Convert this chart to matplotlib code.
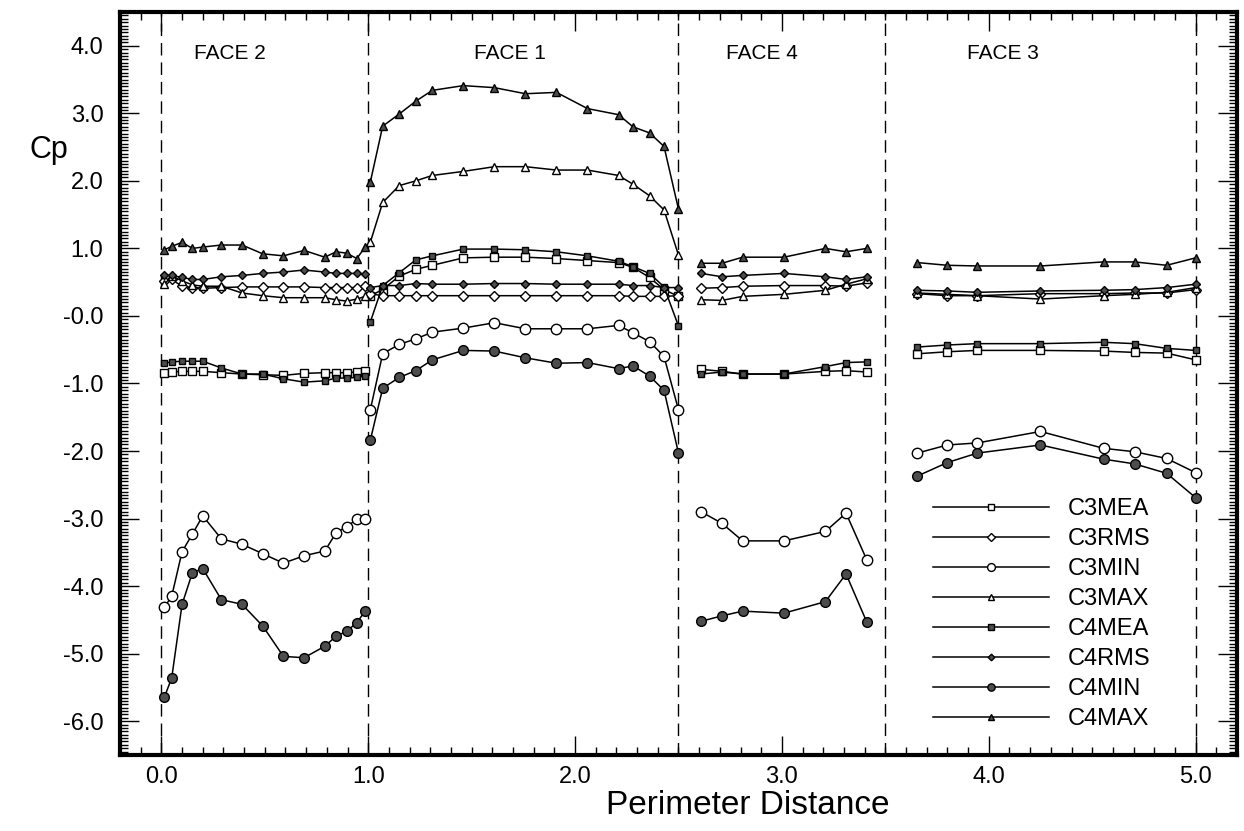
import matplotlib
matplotlib.use("Agg")
import matplotlib.pyplot as plt
from matplotlib.ticker import MultipleLocator, FixedLocator

plt.rcParams['font.family'] = ['Liberation Sans', 'DejaVu Sans']

# ---------------- data ----------------
x_face2 = [0.015, 0.05, 0.10, 0.15, 0.20, 0.29, 0.39, 0.49, 0.59, 0.69, 0.79, 0.845, 0.895, 0.945, 0.985]
x_face1 = [1.01, 1.07, 1.15, 1.23, 1.31, 1.46, 1.61, 1.76, 1.91, 2.06, 2.21, 2.28, 2.36, 2.43, 2.50]
x_face4 = [2.61, 2.71, 2.81, 3.01, 3.21, 3.31, 3.41]
x_face3 = [3.655, 3.80, 3.945, 4.25, 4.555, 4.705, 4.86, 5.0]

# Face 2
c3mea_f2 = [-0.85, -0.83, -0.82, -0.82, -0.82, -0.84, -0.86, -0.87, -0.88, -0.85, -0.84, -0.84, -0.84, -0.83, -0.82]
c3rms_f2 = [0.52, 0.54, 0.44, 0.42, 0.41, 0.42, 0.43, 0.43, 0.43, 0.43, 0.42, 0.42, 0.42, 0.42, 0.44]
c3min_f2 = [-4.31, -4.15, -3.49, -3.23, -2.96, -3.30, -3.38, -3.52, -3.66, -3.55, -3.48, -3.21, -3.12, -3.01, -3.00]
c3max_f2 = [0.47, 0.59, 0.52, 0.46, 0.44, 0.44, 0.34, 0.30, 0.27, 0.27, 0.27, 0.24, 0.22, 0.25, 0.29]
c4mea_f2 = [-0.70, -0.68, -0.67, -0.67, -0.67, -0.77, -0.86, -0.86, -0.93, -0.98, -0.96, -0.92, -0.92, -0.91, -0.89]
c4rms_f2 = [0.60, 0.60, 0.57, 0.54, 0.54, 0.58, 0.60, 0.63, 0.65, 0.68, 0.65, 0.63, 0.63, 0.63, 0.62]
c4min_f2 = [-5.64, -5.36, -4.27, -3.80, -3.74, -4.20, -4.27, -4.59, -5.04, -5.06, -4.89, -4.74, -4.67, -4.54, -4.37]
c4max_f2 = [0.98, 1.03, 1.09, 1.00, 1.02, 1.05, 1.05, 0.92, 0.89, 0.97, 0.87, 0.95, 0.93, 0.85, 1.02]

# Face 1
c3mea_f1 = [0.30, 0.39, 0.59, 0.69, 0.75, 0.86, 0.87, 0.87, 0.85, 0.82, 0.79, 0.72, 0.57, 0.39, 0.29]
c3rms_f1 = [0.33, 0.30, 0.30, 0.30, 0.30, 0.30, 0.30, 0.30, 0.30, 0.30, 0.30, 0.29, 0.29, 0.29, 0.30]
c3min_f1 = [-1.39, -0.56, -0.42, -0.34, -0.24, -0.18, -0.10, -0.19, -0.19, -0.19, -0.14, -0.25, -0.38, -0.60, -1.39]
c3max_f1 = [1.09, 1.68, 1.93, 2.00, 2.08, 2.14, 2.21, 2.21, 2.16, 2.16, 2.08, 1.95, 1.78, 1.57, 0.90]
c4mea_f1 = [-0.09, 0.45, 0.64, 0.83, 0.89, 0.99, 0.99, 0.98, 0.95, 0.89, 0.81, 0.73, 0.63, 0.43, -0.15]
c4rms_f1 = [0.42, 0.45, 0.45, 0.48, 0.47, 0.47, 0.48, 0.48, 0.47, 0.47, 0.47, 0.45, 0.45, 0.42, 0.42]
c4min_f1 = [-1.84, -1.07, -0.91, -0.81, -0.65, -0.51, -0.52, -0.62, -0.70, -0.69, -0.78, -0.74, -0.89, -1.10, -2.03]
c4max_f1 = [1.98, 2.81, 2.99, 3.18, 3.34, 3.41, 3.38, 3.29, 3.31, 3.07, 2.98, 2.80, 2.71, 2.51, 1.58]

# Face 4
c3mea_f4 = [-0.79, -0.82, -0.86, -0.86, -0.82, -0.81, -0.83]
c3rms_f4 = [0.41, 0.42, 0.44, 0.45, 0.45, 0.44, 0.49]
c3min_f4 = [-2.90, -3.07, -3.33, -3.33, -3.19, -2.92, -3.61]
c3max_f4 = [0.24, 0.23, 0.29, 0.32, 0.38, 0.47, 0.55]
c4mea_f4 = [-0.86, -0.83, -0.86, -0.86, -0.75, -0.69, -0.68]
c4rms_f4 = [0.63, 0.58, 0.60, 0.63, 0.58, 0.54, 0.58]
c4min_f4 = [-4.52, -4.44, -4.37, -4.40, -4.23, -3.82, -4.53]
c4max_f4 = [0.78, 0.78, 0.87, 0.87, 1.00, 0.95, 1.00]

# Face 3
c3mea_f3 = [-0.56, -0.53, -0.51, -0.51, -0.52, -0.54, -0.55, -0.65]
c3rms_f3 = [0.33, 0.30, 0.30, 0.33, 0.33, 0.34, 0.34, 0.39]
c3min_f3 = [-2.03, -1.91, -1.88, -1.71, -1.96, -2.01, -2.11, -2.32]
c3max_f3 = [0.34, 0.32, 0.30, 0.25, 0.30, 0.32, 0.35, 0.42]
c4mea_f3 = [-0.46, -0.43, -0.41, -0.41, -0.39, -0.41, -0.48, -0.51]
c4rms_f3 = [0.38, 0.37, 0.35, 0.37, 0.38, 0.39, 0.42, 0.47]
c4min_f3 = [-2.37, -2.17, -2.03, -1.91, -2.12, -2.19, -2.33, -2.69]
c4max_f3 = [0.79, 0.75, 0.74, 0.74, 0.80, 0.80, 0.75, 0.86]

series_names = ['C3MEA', 'C3RMS', 'C3MIN', 'C3MAX', 'C4MEA', 'C4RMS', 'C4MIN', 'C4MAX']
face_boundaries = [0.0, 1.0, 2.5, 3.5, 5.0]
face_labels = ['FACE 2', 'FACE 1', 'FACE 4', 'FACE 3']
face_label_x = [0.33, 1.685, 2.905, 4.07]
y_ticks = [4.0, 3.0, 2.0, 1.0, 0.0, -1.0, -2.0, -3.0, -4.0, -5.0, -6.0]
y_tick_labels = ['4.0', '3.0', '2.0', '1.0', '-0.0', '-1.0', '-2.0', '-3.0', '-4.0', '-5.0', '-6.0']
x_ticks = [0.0, 1.0, 2.0, 3.0, 4.0, 5.0]
x_tick_labels = ['0.0', '1.0', '2.0', '3.0', '4.0', '5.0']

faces_x = [x_face2, x_face1, x_face4, x_face3]
series_data = {
    'C3MEA': [c3mea_f2, c3mea_f1, c3mea_f4, c3mea_f3],
    'C3RMS': [c3rms_f2, c3rms_f1, c3rms_f4, c3rms_f3],
    'C3MIN': [c3min_f2, c3min_f1, c3min_f4, c3min_f3],
    'C3MAX': [c3max_f2, c3max_f1, c3max_f4, c3max_f3],
    'C4MEA': [c4mea_f2, c4mea_f1, c4mea_f4, c4mea_f3],
    'C4RMS': [c4rms_f2, c4rms_f1, c4rms_f4, c4rms_f3],
    'C4MIN': [c4min_f2, c4min_f1, c4min_f4, c4min_f3],
    'C4MAX': [c4max_f2, c4max_f1, c4max_f4, c4max_f3],
}

FILL = '#4d4d4d'
styles = {
    'C3MEA': dict(marker='s', ms=5.5, mfc='white'),
    'C3RMS': dict(marker='D', ms=5.0, mfc='white'),
    'C3MIN': dict(marker='o', ms=7.5, mfc='white'),
    'C3MAX': dict(marker='^', ms=6.0, mfc='white'),
    'C4MEA': dict(marker='s', ms=5.0, mfc=FILL),
    'C4RMS': dict(marker='D', ms=4.5, mfc=FILL),
    'C4MIN': dict(marker='o', ms=7.0, mfc=FILL),
    'C4MAX': dict(marker='^', ms=5.5, mfc=FILL),
}

# ---------------- figure ----------------
fig = plt.figure(figsize=(12.44, 8.31), dpi=100)
ax = fig.add_axes([120/1244, 1-755/831, (1237-120)/1244, (755-12)/831])

for xb in face_boundaries:
    ax.axvline(xb, color='black', lw=1.0, ls=(0, (9, 5)), zorder=1)

for name in series_names:
    st = styles[name]
    for i, (xs, ys) in enumerate(zip(faces_x, series_data[name])):
        ax.plot(xs, ys, color='black', lw=1.1, marker=st['marker'], ms=st['ms'],
                mfc=st['mfc'], mec='black', mew=1.0, zorder=3,
                label=name if i == 0 else None)

for lab, lx in zip(face_labels, face_label_x):
    ax.text(lx, 3.88, lab, ha='center', va='center', fontsize=15)

ax.set_xlim(-0.2, 5.2)
ax.set_ylim(-6.5, 4.5)
ax.xaxis.set_major_locator(FixedLocator(x_ticks))
ax.set_xticklabels(x_tick_labels)
ax.yaxis.set_major_locator(FixedLocator(y_ticks))
ax.set_yticklabels(y_tick_labels)
ax.xaxis.set_minor_locator(MultipleLocator(0.1))
ax.yaxis.set_minor_locator(MultipleLocator(0.05))
ax.tick_params(which='both', direction='in', top=True, right=True, width=1.0)
ax.tick_params(which='major', length=14, labelsize=17)
ax.tick_params(axis='x', which='major', pad=8)
ax.tick_params(axis='y', which='major', pad=12)
ax.tick_params(which='minor', length=6)
for sp in ax.spines.values():
    sp.set_linewidth(3.0)

fig.text(49/1244, 1-150/831, 'Cp', fontsize=22, ha='center', va='center')
fig.text(748/1244, 1-805/831, 'Perimeter Distance', fontsize=24, ha='center', va='center')

leg = ax.legend(loc='upper left', bbox_to_anchor=((933-120)/1117, (755-498)/743),
                frameon=False, fontsize=17, handlelength=4.9, handletextpad=0.8,
                labelspacing=0.34, borderpad=0, borderaxespad=0, numpoints=1,
                markerscale=0.75)

fig.savefig('out.png', dpi=100)
